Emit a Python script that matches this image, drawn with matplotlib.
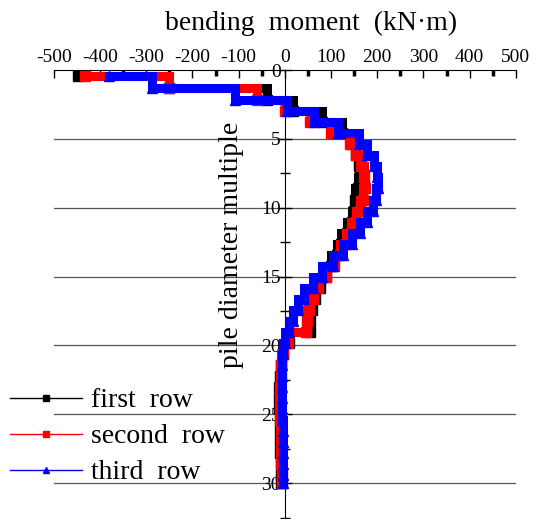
import numpy as np
import matplotlib
matplotlib.use('Agg')
import matplotlib.pyplot as plt
from matplotlib.lines import Line2D
from matplotlib.ticker import MultipleLocator

plt.rcParams['font.family'] = ['Liberation Serif', 'DejaVu Serif']
plt.rcParams['axes.unicode_minus'] = False

# depth (pile diameter multiple) of each node
depth = [0.45, 1.3, 2.2, 3.0, 3.8, 4.6, 5.4, 6.2, 7.0, 7.8, 8.6, 9.4, 10.2,
         11.0, 11.8, 12.6, 13.4, 14.2, 15.0, 15.8, 16.6, 17.4, 18.2, 19.0,
         19.8, 20.6, 21.4, 22.2, 23.0, 23.8, 24.6, 25.4, 26.2, 27.0, 27.8,
         28.6, 29.4, 30.0]

# bending moment (kN·m)
first_row = [-448, -250, -39, 17, 80, 123, 145, 155, 160, 163, 158, 152, 150,
             145, 135, 122, 112, 100, 88, 75, 65, 58, 55, 55,
             8, -3, -8, -10, -12, -12, -12, -11, -11, -10, -10,
             -9, -9, -8]
second_row = [-433, -250, -61, 0, 55, 100, 140, 155, 165, 172, 173, 170, 163,
              155, 144, 132, 120, 106, 88, 72, 60, 52, 48, 46,
              6, -4, -8, -9, -10, -10, -10, -10, -9, -9, -8,
              -8, -7, -7]
third_row = [-380, -288, -108, 4, 62, 116, 160, 178, 192, 200, 202, 198, 190,
             178, 163, 145, 125, 104, 80, 60, 42, 28, 17, 8,
             1, -4, -6, -7, -7, -7, -6, -6, -5, -5, -5,
             -4, -4, -3]

labels = ['first  row', 'second  row', 'third  row']
colors = ['black', 'red', 'blue']
markers = ['s', 's', '^']

fig = plt.figure(figsize=(5.39, 5.19), dpi=100)
ax = fig.add_axes([0.1, 0.0, 0.857, 0.865])

for vals, c, m in zip([first_row, second_row, third_row], colors, markers):
    ax.plot(vals, depth, color=c, lw=6.5, drawstyle='steps-post',
            solid_joinstyle='miter', zorder=3)
    ax.plot(vals, depth, color=c, lw=0, marker=m, ms=6.5, zorder=3)

ax.set_xlim(-500, 500)
ax.set_ylim(32.6, 0)

# axes at top and through x = 0
ax.spines['left'].set_position(('data', 0))
ax.spines['right'].set_visible(False)
ax.spines['bottom'].set_visible(False)
ax.xaxis.tick_top()
ax.xaxis.set_major_locator(MultipleLocator(100))
ax.xaxis.set_minor_locator(MultipleLocator(50))
ax.yaxis.set_major_locator(MultipleLocator(5))
ax.yaxis.set_minor_locator(MultipleLocator(2.5))
ax.tick_params(axis='x', which='major', direction='in', length=6, width=1,
               labelsize=14, pad=3)
ax.tick_params(axis='x', which='minor', direction='in', length=4, width=2.5)
ax.tick_params(axis='y', which='major', direction='inout', length=10, width=1,
               labelsize=14, pad=-2)
ax.tick_params(axis='y', which='minor', direction='inout', length=7, width=1)

for d in range(5, 31, 5):
    ax.axhline(d, color='#555555', lw=0.9, zorder=1)

fig.text(311 / 539, 1 - 30 / 519, 'bending  moment  (kN·m)', fontsize=20,
         ha='center', va='baseline')
ax.text(-116, 12.7, 'pile diameter multiple', rotation=90, fontsize=20,
        ha='center', va='center')

handles = [Line2D([], [], color=c, lw=1, marker=m, ms=5)
           for c, m in zip(colors, markers)]
fig.legend(handles, labels, loc='upper left',
           bbox_to_anchor=(10 / 539, 1 - 388 / 519), frameon=False,
           fontsize=20, handlelength=2.6, labelspacing=0.38,
           handletextpad=0.3, borderpad=0, borderaxespad=0)

fig.savefig('out.png', dpi=100)
